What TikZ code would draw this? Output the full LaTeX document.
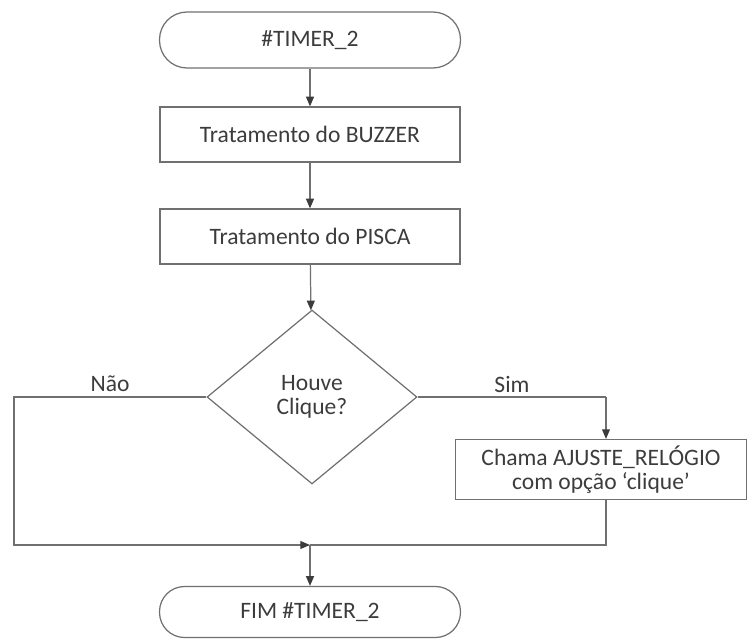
\documentclass[tikz,border=0pt]{standalone}
\usepackage{fontspec}
\setmainfont{Carlito}
\usetikzlibrary{shapes.geometric,arrows.meta}
\definecolor{linha}{HTML}{707070}
\definecolor{texto}{HTML}{3C3C3C}
\begin{document}
\begin{tikzpicture}[x=0.02cm, y=-0.02cm,
    every node/.style={text=texto, font=\fontsize{13.4}{14}\selectfont},
    terminal/.style={draw=linha, line width=0.7pt, rectangle, rounded corners=0.55cm,
                     minimum width=6.02cm, minimum height=1.12cm},
    caixa/.style={draw=linha, line width=0.7pt, rectangle,
                  minimum width=6cm, minimum height=1.1cm},
    decisao/.style={draw=linha, line width=0.7pt, diamond, inner sep=0pt,
                    minimum width=4.2cm, minimum height=3.48cm, align=center},
    seta/.style={draw=linha, line width=0.7pt,
                 -{Triangle[length=5.5pt, width=4.5pt, color=texto]}},
    fio/.style={draw=linha, line width=0.7pt}]
    \useasboundingbox (0,0) rectangle (748,639);

    % Blocos
    \node[terminal] (inicio) at (310,40)    {\#TIMER\_2};
    \node[caixa]    (buzzer) at (310,134.5) {Tratamento do BUZZER};
    \node[caixa]    (pisca)  at (310,236.5) {Tratamento do PISCA};
    \node[decisao]  (clique) at (312,397)   {Houve\\Clique?};
    \node[caixa, minimum width=5.82cm, align=center]
                    (ajuste) at (601,469.5) {Chama AJUSTE\_RELÓGIO\\com opção ‘clique’};
    \node[terminal, minimum height=1.02cm, rounded corners=0.5cm]
                    (fim)    at (310,612)   {FIM \#TIMER\_2};

    \coordinate (nao)   at (14,397);
    \coordinate (sim)   at (606,397);
    \coordinate (junta) at (310,545);

    % Ligacoes
    \draw[seta] (inicio) -- (buzzer);
    \draw[seta] (buzzer) -- (pisca);
    \draw[seta] (pisca) -- (clique);
    \draw[fio]  (clique.east) -- (sim);
    \draw[seta] (sim) -- (sim |- ajuste.north);
    \draw[fio]  (sim |- ajuste.south) |- (junta);
    \draw[seta] (clique.west) -- (nao) |- (junta);
    \draw[seta] (junta) -- (fim);

    % Rotulos
    \node (lnao) at (110,384) {Não};
    \node (lsim) at (512,384) {Sim};
\end{tikzpicture}
\end{document}
